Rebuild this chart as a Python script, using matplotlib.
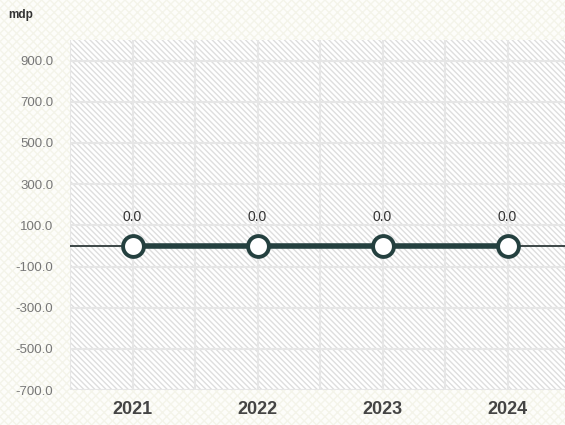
import numpy as np
import matplotlib
matplotlib.use('Agg')
import matplotlib.pyplot as plt
from matplotlib.patches import Rectangle

years = ['2021', '2022', '2023', '2024']
values = [0.0, 0.0, 0.0, 0.0]
yticks = [-700, -500, -300, -100, 100, 300, 500, 700, 900]

plt.rcParams['font.family'] = ['Liberation Sans', 'DejaVu Sans']
plt.rcParams['hatch.linewidth'] = 1.0

fig = plt.figure(figsize=(5.65, 4.25), dpi=100)
fig.patch.set_facecolor('#fdfdfa')
bg = Rectangle((0, 0), 1, 1, transform=fig.transFigure, facecolor='none',
               edgecolor='#f4f4ea', hatch='xxxx', linewidth=0, zorder=-10)
fig.patches.append(bg)

ax = fig.add_axes([0.124, 0.082, 0.885, 0.824])
ax.set_facecolor('white')
ax.add_patch(Rectangle((0, 0), 1, 1, transform=ax.transAxes, facecolor='white',
                       edgecolor='#dedede', hatch='\\\\\\\\\\\\', linewidth=0, zorder=0))

x = np.arange(len(years))
ax.axhline(0, color='#1e2a2a', linewidth=1.2, zorder=3)
ax.plot(x, values, color='#24403f', linewidth=4, marker='o', markersize=15,
        markerfacecolor='white', markeredgecolor='#24403f', markeredgewidth=2.8, zorder=4)
for xi, v in zip(x, values):
    ax.annotate(f'{v:.1f}', (xi, v), xytext=(0, 16), textcoords='offset points',
                ha='center', va='bottom', fontsize=10, color='#333333')

ax.set_xlim(-0.5, 3.5)
ax.set_ylim(-700, 1000)
ax.set_xticks(x)
ax.set_xticklabels(years, fontsize=13, fontweight='bold', color='#444444')
ax.set_xticks(np.arange(-0.5, 3.6, 0.5), minor=True)
ax.set_yticks(yticks)
ax.set_yticklabels([f'{t:.1f}' for t in yticks], fontsize=9.5, color='#777777')
ax.grid(True, which='both', axis='x', color='#e6e6e6', linewidth=1.5, zorder=1)
ax.grid(True, which='major', axis='y', color='#e6e6e6', linewidth=1.5, zorder=1)
ax.set_axisbelow(True)
ax.tick_params(which='both', length=0)
ax.tick_params(axis='x', pad=8)
ax.tick_params(axis='y', pad=12)
for s in ax.spines.values():
    s.set_visible(False)

fig.text(0.014, 0.965, 'mdp', fontsize=8.5, fontweight='bold', color='#333333', va='center')

fig.savefig('out.png', dpi=100, facecolor=fig.get_facecolor())
